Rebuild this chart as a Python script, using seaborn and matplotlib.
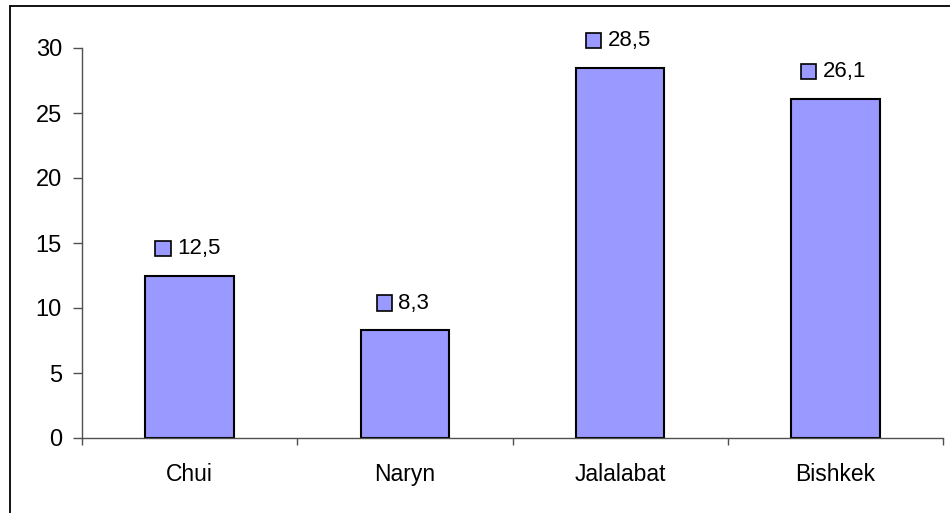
import matplotlib
matplotlib.use("Agg")
import matplotlib.pyplot as plt
import seaborn as sns
import pandas as pd
from matplotlib.lines import Line2D
from matplotlib.patches import Rectangle
from matplotlib.offsetbox import AnnotationBbox, DrawingArea, TextArea, HPacker

regions = ["Chui", "Naryn", "Jalalabat", "Bishkek"]
values = [12.5, 8.3, 28.5, 26.1]
value_labels = ["12,5", "8,3", "28,5", "26,1"]
y_ticks = [0, 5, 10, 15, 20, 25, 30]

BAR_COLOR = "#9999FF"

sns.set_theme(style="white")
plt.rcParams["font.family"] = ["Liberation Sans", "DejaVu Sans"]

df = pd.DataFrame({"region": regions, "value": values})

fig = plt.figure(figsize=(9.5, 5.13), dpi=100)
ax = fig.add_axes([82 / 950, 1 - 438 / 513, (943 - 82) / 950, (438 - 48) / 513])

sns.barplot(data=df, x="region", y="value", ax=ax, color=BAR_COLOR,
            saturation=1, width=0.41, edgecolor="black", linewidth=1.5)

ax.set_xlim(-0.5, len(regions) - 0.5)
ax.set_ylim(0, 30)
ax.set_yticks(y_ticks)
ax.set_yticklabels([str(t) for t in y_ticks])
ax.set_xlabel("")
ax.set_ylabel("")

for side in ("top", "right"):
    ax.spines[side].set_visible(False)
for side in ("left", "bottom"):
    ax.spines[side].set_color("#505050")
    ax.spines[side].set_linewidth(1.0)

ax.tick_params(axis="y", which="major", direction="out", length=6.5, width=1.0,
               color="#505050", pad=8, labelsize=17, left=True)
ax.tick_params(axis="x", which="major", length=0, pad=18, labelsize=16.5)
ax.set_xticks([i + 0.5 for i in range(-1, len(regions))], minor=True)
ax.tick_params(axis="x", which="minor", direction="out", length=5, width=1.0,
               color="#505050", bottom=True)
for lbl in ax.get_xticklabels():
    lbl.set_color("black")
for lbl in ax.get_yticklabels():
    lbl.set_color("black")

# value labels: small legend-key square followed by the number, centred above each bar
for i, (v, txt) in enumerate(zip(values, value_labels)):
    key = DrawingArea(12, 12, 0, 0)
    key.add_artist(Rectangle((0.5, 0.5), 11, 11, facecolor=BAR_COLOR,
                             edgecolor="black", linewidth=1.2))
    label = TextArea(txt, textprops=dict(fontsize=16, color="black",
                                         family=["Liberation Sans", "DejaVu Sans"]))
    box = HPacker(children=[key, label], align="center", pad=0, sep=4)
    ab = AnnotationBbox(box, (i, v), xybox=(-1.5, 19.5), xycoords="data",
                        boxcoords="offset points", frameon=False,
                        box_alignment=(0.5, 0.5))
    ax.add_artist(ab)

# outer chart-area frame (top and left edges)
fig.add_artist(Line2D([10 / 950, 1.0], [1 - 5.5 / 513, 1 - 5.5 / 513],
                      transform=fig.transFigure, color="black", linewidth=1.3))
fig.add_artist(Line2D([10 / 950, 10 / 950], [0.0, 1 - 5.5 / 513],
                      transform=fig.transFigure, color="black", linewidth=1.3))

fig.savefig("out.png", dpi=100)
